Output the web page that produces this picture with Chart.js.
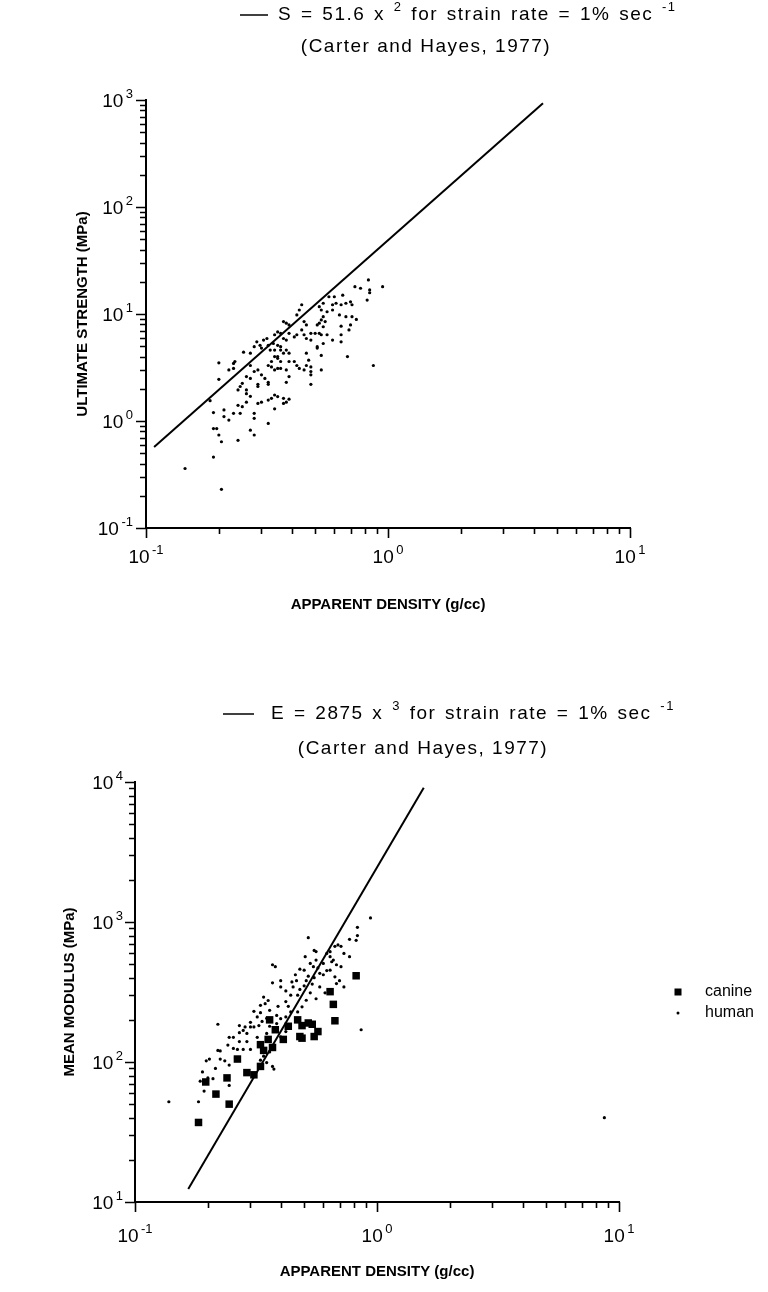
<!DOCTYPE html>
<html><head><meta charset="utf-8">
<script src="https://cdn.jsdelivr.net/npm/chart.js@4.4.1/dist/chart.umd.min.js"></script>
<style>
html,body{margin:0;padding:0;background:#fff;}
#wrap{position:relative;width:768px;height:1292px;background:#fff;overflow:hidden;}
#c1{position:absolute;left:0;top:0;}
#c2{position:absolute;left:0;top:640px;}
</style></head><body>
<div id="wrap">
<canvas id="c1" width="768" height="640"></canvas>
<canvas id="c2" width="768" height="652"></canvas>
</div>
<script>
// ---------------- DATA ----------------
const xTickValues = [0.1,0.2,0.3,0.4,0.5,0.6,0.7,0.8,0.9,1,2,3,4,5,6,7,8,9,10];
const yTickValuesTop = [0.1,0.2,0.3,0.4,0.5,0.6,0.7,0.8,0.9,1,2,3,4,5,6,7,8,9,10,20,30,40,50,60,70,80,90,100,200,300,400,500,600,700,800,900,1000];
const yTickValuesBottom = [10,20,30,40,50,60,70,80,90,100,200,300,400,500,600,700,800,900,1000,2000,3000,4000,5000,6000,7000,8000,9000,10000];
const decadeExponents = {'-1':'-1','0':'0','1':'1','2':'2','3':'3','4':'4'};

// Top chart: ultimate strength, human specimens
const topHumanX = [0.83,0.95,0.77,0.73,0.84,0.84,0.82,0.70,0.71,0.67,0.64,0.61,0.59,0.65,0.60,0.57,0.54,0.52,0.53,0.56,0.59,0.63,0.67,0.71,0.74,0.54,0.53,0.55,0.52,0.54,0.51,0.50,0.52,0.53,0.56,0.59,0.54,0.51,0.64,0.64,0.64,0.70,0.69,0.68,0.87,0.44,0.43,0.42,0.37,0.38,0.39,0.45,0.46,0.44,0.45,0.46,0.48,0.48,0.42,0.41,0.39,0.35,0.36,0.34,0.37,0.38,0.35,0.36,0.38,0.39,0.37,0.36,0.34,0.34,0.35,0.33,0.32,0.33,0.34,0.35,0.36,0.38,0.39,0.38,0.39,0.41,0.42,0.43,0.45,0.46,0.47,0.46,0.48,0.48,0.48,0.48,0.51,0.53,0.53,0.31,0.32,0.32,0.29,0.29,0.30,0.29,0.27,0.26,0.28,0.27,0.26,0.245,0.24,0.25,0.24,0.25,0.26,0.245,0.26,0.27,0.29,0.30,0.32,0.33,0.34,0.35,0.37,0.38,0.39,0.37,0.34,0.32,0.28,0.28,0.27,0.28,0.24,0.23,0.22,0.21,0.21,0.19,0.19,0.196,0.20,0.205,0.20,0.20,0.22,0.23,0.233,0.23,0.253,0.27,0.28,0.287,0.296,0.306,0.30,0.316,0.326,0.336,0.32,0.35,0.36,0.19,0.145,0.205,0.184];
const topHumanY = [20.8,18.0,17.4,18.0,16.8,15.8,13.5,13.0,12.2,12.6,12.2,12.6,12.2,15.0,14.5,14.5,12.6,11.7,10.9,10.5,10.9,9.8,9.45,9.45,8.9,9.45,8.8,8.5,8.2,7.6,7.9,6.6,6.6,6.4,6.4,5.7,5.3,4.95,7.7,6.4,5.5,7.9,7.1,4.0,3.3,12.2,10.9,9.8,8.5,8.2,7.9,8.5,7.9,7.1,6.4,5.9,6.6,5.7,6.4,6.1,6.6,6.8,6.6,6.4,5.9,5.7,5.1,4.95,4.6,4.3,4.3,4.6,4.6,4.0,3.85,3.6,3.3,3.2,3.0,3.1,3.1,3.0,2.6,2.3,3.6,3.6,3.3,3.1,3.0,4.3,3.7,3.3,3.2,2.9,2.7,2.2,4.8,4.1,3.0,2.5,2.3,2.2,2.2,2.1,2.7,3.0,2.5,2.6,2.9,3.3,1.95,2.1,1.95,2.25,1.4,1.36,1.5,1.18,1.8,1.7,1.46,1.5,1.57,1.63,1.75,1.69,1.63,1.5,1.6,1.46,1.3,0.95,1.18,1.06,0.82,0.74,0.66,1.18,1.02,1.27,1.10,1.2,0.85,0.85,0.74,0.64,3.5,2.45,3.0,3.45,3.6,3.1,4.4,4.3,4.95,5.5,5.1,5.7,4.8,5.9,4.6,5.3,5.1,4.0,3.6,0.46,0.36,0.23,1.55];
// Fit line S = 51.6 x^2 (end points)
const topFitX = [0.108, 4.37];
const topFitY = [0.57, 930];

// Bottom chart: mean modulus
const botHumanX = [0.138,0.183,0.193,0.186,0.20,0.21,0.245,0.197,0.203,0.225,0.235,0.245,0.22,0.225,0.242,0.255,0.265,0.28,0.30,0.255,0.245,0.27,0.28,0.285,0.27,0.22,0.30,0.32,0.33,0.345,0.34,0.355,0.37,0.37,0.40,0.40,0.42,0.42,0.445,0.45,0.465,0.47,0.50,0.505,0.51,0.52,0.53,0.546,0.56,0.56,0.58,0.60,0.62,0.64,0.64,0.66,0.68,0.70,0.71,0.73,0.77,0.86,0.53,0.51,0.49,0.47,0.44,0.42,0.40,0.385,0.36,0.385,0.36,0.35,0.335,0.325,0.31,0.30,0.29,0.37,0.35,0.34,0.36,0.40,0.42,0.56,0.58,0.61,0.64,0.68,0.73,0.67,0.94,0.83,0.77,0.82,0.52,0.55,0.69,0.71,0.67,0.64,0.38,0.83,0.375,0.33,8.7,0.31,0.33,0.44,0.48,0.50,0.55,0.60,0.62,0.57,0.65,0.27,0.29,0.32,0.35,0.39,0.46,0.48,0.54,0.43,0.26,0.215,0.19];
const botHumanY = [52,52,62,73,77,76,68,102,105,105,102,95,121,120,132,125,123,123,123,150,150,162,168,178,182,186,192,210,254,261,291,275,368,495,381,344,322,270,373,344,381,300,453,565,381,410,506,480,615,535,430,506,596,565,453,535,495,381,480,596,565,170,312,276,248,228,228,210,204,188,180,215,234,205,195,182,178,178,160,93,99,110,118,151,165,283,344,312,325,363,344,406,1070,916,752,740,773,627,686,670,670,614,480,800,89,103,40,230,225,300,330,350,400,420,450,470,520,140,140,150,160,250,420,460,360,250,107,90,85];
const botCanineX = [0.183,0.245,0.216,0.196,0.24,0.29,0.31,0.265,0.33,0.34,0.37,0.41,0.49,0.55,0.57,0.49,0.54,0.67,0.66,0.64,0.82,0.33,0.355,0.38,0.43,0.52,0.47,0.36,0.48];
const botCanineY = [37,50,59,72,77,84,81,105,93,121,127,145,148,152,165,182,186,197,258,318,413,133,145,170,180,190,200,200,152];
// Fit line E = 2875 x^3 (end points)
const botFitX = [0.166, 1.56];
const botFitY = [12.4, 9100];

// ---------------- HELPERS ----------------
const FAM = "'Liberation Sans', Arial, Helvetica, sans-serif";
Chart.defaults.font.family = FAM;
Chart.defaults.color = '#000';
const pts = (xs, ys) => xs.map((x, i) => ({x: x, y: ys[i]}));
const isDecade = v => Math.abs(Math.log10(v) - Math.round(Math.log10(v))) < 1e-6;

function drawPow(ctx, exp, x, baseY, align) {
  ctx.font = '19px ' + FAM;
  const w1 = ctx.measureText('10').width;
  ctx.font = '13px ' + FAM;
  const w2 = ctx.measureText(exp).width;
  const gap = 2.5;
  const total = w1 + gap + w2;
  const x0 = align === 'right' ? x - total : x - total / 2;
  ctx.textAlign = 'left';
  ctx.textBaseline = 'alphabetic';
  ctx.font = '19px ' + FAM;
  ctx.fillText('10', x0, baseY);
  ctx.font = '13px ' + FAM;
  ctx.fillText(exp, x0 + w1 + gap, baseY - 9);
}

const axisMarks = {
  id: 'axisMarks',
  afterDraw(chart, args, o) {
    const ctx = chart.ctx, a = chart.chartArea;
    const xs = chart.scales.x, ys = chart.scales.y;
    ctx.save();
    ctx.strokeStyle = '#000';
    ctx.fillStyle = '#000';
    ctx.lineWidth = 1.6;
    ctx.beginPath();
    xs.ticks.forEach(t => {
      const p = Math.round(xs.getPixelForValue(t.value)) + 0.5;
      const L = isDecade(t.value) ? 10 : 6;
      ctx.moveTo(p, a.bottom); ctx.lineTo(p, a.bottom + L);
    });
    ys.ticks.forEach(t => {
      const p = Math.round(ys.getPixelForValue(t.value)) + 0.5;
      const L = isDecade(t.value) ? 10 : 6;
      ctx.moveTo(a.left, p); ctx.lineTo(a.left - L, p);
    });
    ctx.stroke();
    xs.ticks.forEach(t => {
      if (!isDecade(t.value)) return;
      const e = decadeExponents[String(Math.round(Math.log10(t.value)))];
      drawPow(ctx, e, xs.getPixelForValue(t.value), a.bottom + o.xLabelOffset, 'center');
    });
    ys.ticks.forEach(t => {
      if (!isDecade(t.value)) return;
      const e = decadeExponents[String(Math.round(Math.log10(t.value)))];
      drawPow(ctx, e, a.left - o.yLabelGap, ys.getPixelForValue(t.value) + 7, 'right');
    });
    ctx.restore();
  }
};

const eqTitle = {
  id: 'eqTitle',
  afterDraw(chart, args, o) {
    if (!o || !o.parts) return;
    const ctx = chart.ctx;
    ctx.save();
    ctx.fillStyle = '#000';
    ctx.strokeStyle = '#000';
    ctx.lineWidth = 1.5;
    ctx.beginPath();
    ctx.moveTo(o.sampleX0, o.y1); ctx.lineTo(o.sampleX1, o.y1);
    ctx.stroke();
    ctx.textBaseline = 'middle';
    ctx.textAlign = 'left';
    try { ctx.letterSpacing = o.spacing + 'px'; ctx.wordSpacing = o.wordSpacing + 'px'; } catch (e) {}
    let x = o.textX;
    o.parts.forEach(p => {
      ctx.font = (p.sup ? o.supSize : o.size) + 'px ' + FAM;
      const yy = p.sup ? o.y1 - o.size * 0.42 : o.y1;
      ctx.fillText(p.t, x, yy);
      x += ctx.measureText(p.t).width;
    });
    try { ctx.letterSpacing = o.spacing2 + 'px'; ctx.wordSpacing = o.wordSpacing2 + 'px'; } catch (e) {}
    ctx.font = o.size + 'px ' + FAM;
    ctx.textAlign = 'center';
    ctx.fillText(o.line2, o.line2X, o.y2);
    ctx.restore();
  }
};

const sideLegend = {
  id: 'sideLegend',
  afterDraw(chart, args, o) {
    if (!o || !o.items) return;
    const ctx = chart.ctx;
    ctx.save();
    ctx.fillStyle = '#000';
    ctx.font = o.size + 'px ' + FAM;
    ctx.textBaseline = 'middle';
    ctx.textAlign = 'left';
    o.items.forEach((it, i) => {
      const y = o.y + i * o.gap;
      if (it.marker === 'square') ctx.fillRect(o.markerX - 3.5, y - 3.5, 7, 7);
      else { ctx.beginPath(); ctx.arc(o.markerX, y, 1.5, 0, Math.PI * 2); ctx.fill(); }
      ctx.fillText(it.label, o.textX, y);
    });
    ctx.restore();
  }
};

function makeChart(id, cfg) {
  return new Chart(document.getElementById(id), {
    type: 'scatter',
    data: {datasets: cfg.datasets},
    plugins: [axisMarks, eqTitle, sideLegend],
    options: {
      responsive: false,
      animation: false,
      layout: {padding: cfg.padding},
      plugins: {
        legend: {display: false},
        tooltip: {enabled: false},
        axisMarks: {xLabelOffset: cfg.xLabelOffset, yLabelGap: cfg.yLabelGap},
        eqTitle: cfg.eq,
        sideLegend: cfg.legend || {}
      },
      scales: {
        x: {
          type: 'logarithmic', min: 0.1, max: 10,
          afterBuildTicks: s => { s.ticks = xTickValues.map(v => ({value: v})); },
          afterFit: s => { s.height = cfg.xHeight; },
          grid: {display: false, drawTicks: false},
          border: {display: true, color: '#000', width: 2},
          ticks: {autoSkip: false, maxRotation: 0, callback: () => ''},
          title: {display: true, text: 'APPARENT DENSITY (g/cc)', font: {size: 15, weight: 'bold'}, padding: {top: 4, bottom: 4}}
        },
        y: {
          type: 'logarithmic', min: cfg.yMin, max: cfg.yMax,
          afterBuildTicks: s => { s.ticks = cfg.yTicks.map(v => ({value: v})); },
          afterFit: s => { s.width = cfg.yWidth; },
          grid: {display: false, drawTicks: false},
          border: {display: true, color: '#000', width: 2},
          ticks: {autoSkip: false, callback: () => ''},
          title: {display: true, text: cfg.yTitle, font: {size: 15, weight: 'bold'}, padding: {top: 4, bottom: 4}}
        }
      }
    }
  });
}

// Top chart: chart area left 146, right 630, top 100, bottom 528 in a 768x640 canvas
makeChart('c1', {
  padding: {left: 70, top: 100, right: 138, bottom: 22},
  yWidth: 76, xHeight: 90, xLabelOffset: 35, yLabelGap: 13,
  yMin: 0.1, yMax: 1000, yTicks: yTickValuesTop,
  yTitle: 'ULTIMATE STRENGTH (MPa)',
  datasets: [
    {label: 'S = 51.6 x^2', data: pts(topFitX, topFitY), showLine: true, borderColor: '#000', borderWidth: 2, pointRadius: 0, fill: false},
    {label: 'human', data: pts(topHumanX, topHumanY), pointStyle: 'circle', pointRadius: 1.6, backgroundColor: '#000', borderWidth: 0}
  ],
  eq: {sampleX0: 240, sampleX1: 268, textX: 278, y1: 15, size: 19, supSize: 13, spacing: 1.5, wordSpacing: 2,
       spacing2: 1.5, wordSpacing2: 0,
       parts: [{t: 'S = 51.6 x '}, {t: '2', sup: true}, {t: ' for strain rate = 1% sec '}, {t: '-1', sup: true}],
       line2: '(Carter and Hayes, 1977)', line2X: 426, y2: 47}
});

// Bottom chart: chart area left 135, right 619, top 142, bottom 562 in a 768x652 canvas
makeChart('c2', {
  padding: {left: 57, top: 142, right: 149, bottom: 7},
  yWidth: 78, xHeight: 83, xLabelOffset: 40, yLabelGap: 12,
  yMin: 10, yMax: 10000, yTicks: yTickValuesBottom,
  yTitle: 'MEAN MODULUS (MPa)',
  datasets: [
    {label: 'E = 2875 x^3', data: pts(botFitX, botFitY), showLine: true, borderColor: '#000', borderWidth: 2, pointRadius: 0, fill: false},
    {label: 'human', data: pts(botHumanX, botHumanY), pointStyle: 'circle', pointRadius: 1.6, backgroundColor: '#000', borderWidth: 0},
    {label: 'canine', data: pts(botCanineX, botCanineY), pointStyle: 'rect', pointRadius: 5.3, backgroundColor: '#000', borderWidth: 0}
  ],
  eq: {sampleX0: 223, sampleX1: 254, textX: 271, y1: 74, size: 19, supSize: 13, spacing: 1.5, wordSpacing: 2,
       spacing2: 1.5, wordSpacing2: 0,
       parts: [{t: 'E = 2875 x '}, {t: '3', sup: true}, {t: ' for strain rate = 1% sec '}, {t: '-1', sup: true}],
       line2: '(Carter and Hayes, 1977)', line2X: 423, y2: 109},
  legend: {markerX: 678, textX: 705, y: 352, gap: 21, size: 16,
           items: [{marker: 'square', label: 'canine'}, {marker: 'dot', label: 'human'}]}
});
</script>
</body></html>
